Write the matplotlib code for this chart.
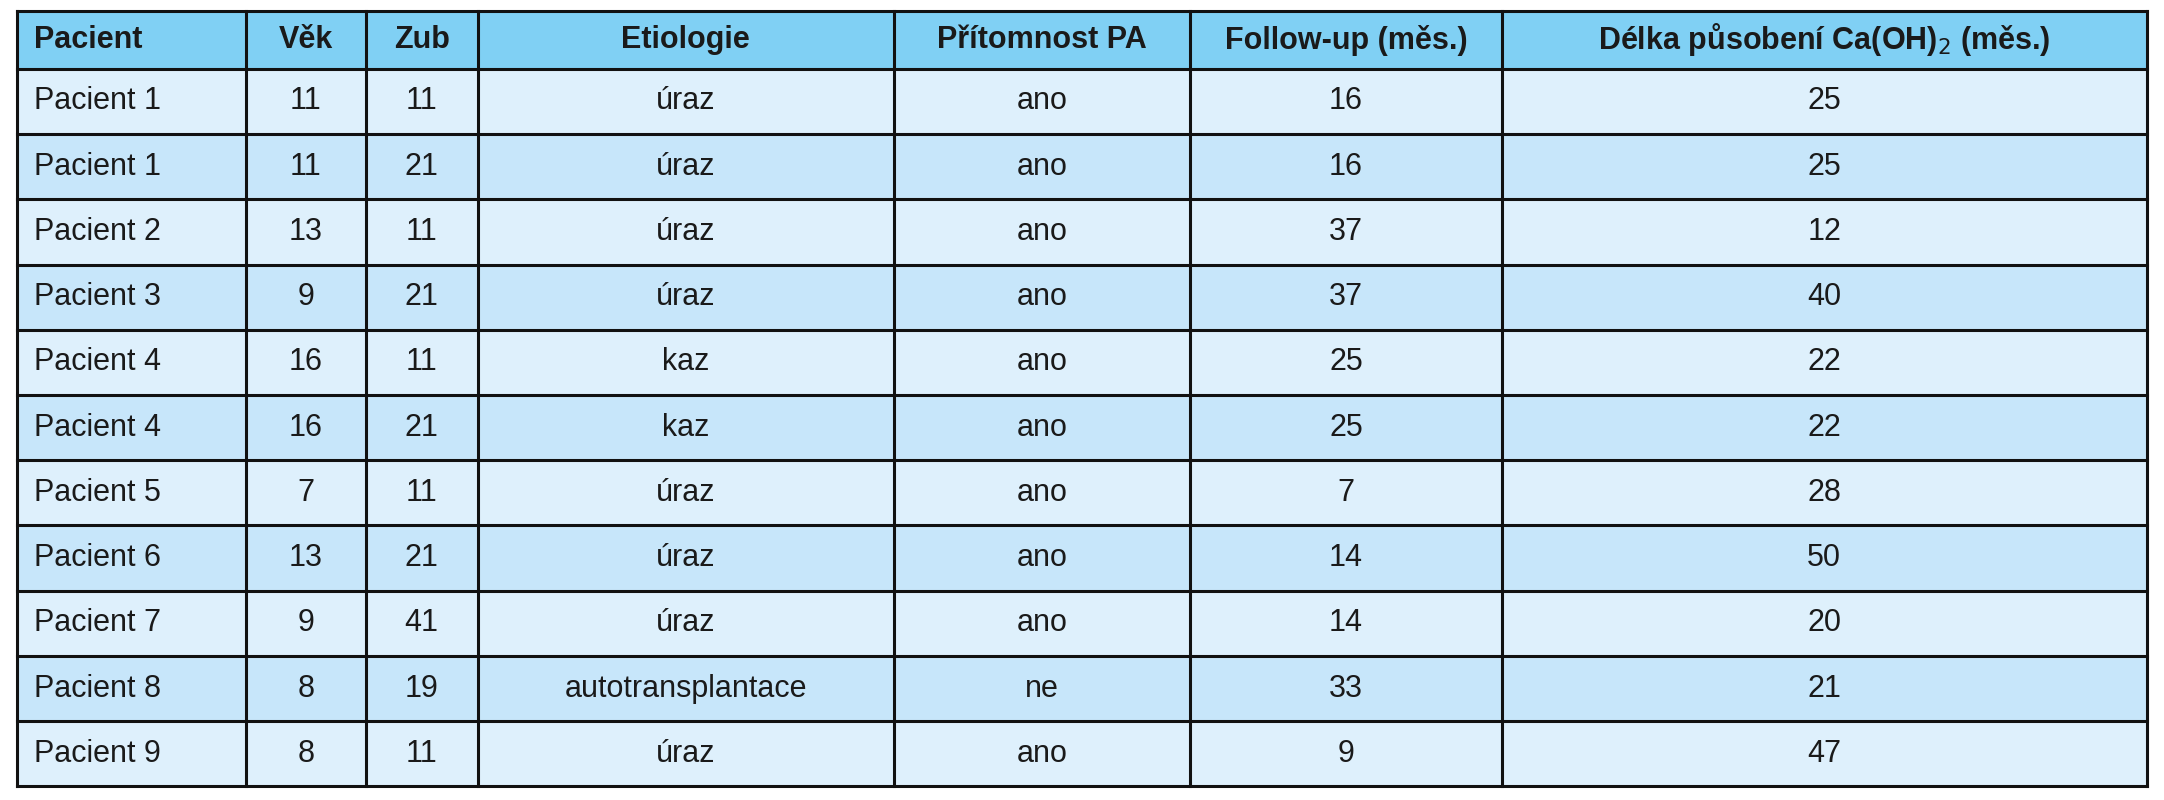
import matplotlib.pyplot as plt
from matplotlib.patches import Rectangle

plt.rcParams['font.family'] = ['Liberation Sans Narrow', 'Liberation Sans', 'DejaVu Sans']

columns = ['Pacient', 'Věk', 'Zub', 'Etiologie', 'Přítomnost PA',
           'Follow-up (měs.)', 'Délka působení Ca(OH)$_2$ (měs.)']
pacient = ['Pacient 1', 'Pacient 1', 'Pacient 2', 'Pacient 3', 'Pacient 4', 'Pacient 4',
           'Pacient 5', 'Pacient 6', 'Pacient 7', 'Pacient 8', 'Pacient 9']
vek = [11, 11, 13, 9, 16, 16, 7, 13, 9, 8, 8]
zub = [11, 21, 11, 21, 11, 21, 11, 21, 41, 19, 11]
etiologie = ['úraz', 'úraz', 'úraz', 'úraz', 'kaz', 'kaz', 'úraz', 'úraz', 'úraz',
             'autotransplantace', 'úraz']
pa = ['ano'] * 9 + ['ne', 'ano']
follow_up = [16, 16, 37, 37, 25, 25, 7, 14, 14, 33, 9]
delka = [25, 25, 12, 40, 22, 22, 28, 50, 20, 21, 47]

rows = list(zip(pacient, vek, zub, etiologie, pa, follow_up, delka))

# column borders and row borders as figure fractions
xs = [0.0077, 0.1135, 0.169, 0.2207, 0.413, 0.55, 0.694, 0.992]
top, head_bottom, bottom = 0.986, 0.914, 0.017
row_h = (head_bottom - bottom) / len(rows)

fig = plt.figure(figsize=(21.64, 8), dpi=100)
ax = fig.add_axes([0, 0, 1, 1])
ax.set_xlim(0, 1)
ax.set_ylim(0, 1)
ax.axis('off')

header_color = '#80d0f4'
row_colors = ['#def0fc', '#c7e6fa']

ax.add_patch(Rectangle((xs[0], head_bottom), xs[-1] - xs[0], top - head_bottom,
                       facecolor=header_color, edgecolor='none'))
for i, col in enumerate(columns):
    if i == 0:
        ax.text(xs[0] + 0.008, (top + head_bottom) / 2, col, ha='left', va='center',
                fontsize=22, fontweight='bold', color='#1a1a1a')
    else:
        ax.text((xs[i] + xs[i + 1]) / 2, (top + head_bottom) / 2, col, ha='center',
                va='center', fontsize=22, fontweight='bold', color='#1a1a1a')

for r, row in enumerate(rows):
    y1 = head_bottom - r * row_h
    y0 = y1 - row_h
    ax.add_patch(Rectangle((xs[0], y0), xs[-1] - xs[0], row_h,
                           facecolor=row_colors[r % 2], edgecolor='none'))
    for i, val in enumerate(row):
        if i == 0:
            ax.text(xs[0] + 0.008, (y0 + y1) / 2, str(val), ha='left', va='center',
                    fontsize=22, color='#1a1a1a')
        else:
            ax.text((xs[i] + xs[i + 1]) / 2, (y0 + y1) / 2, str(val), ha='center',
                    va='center', fontsize=22, color='#1a1a1a')

# grid lines
for x in xs:
    ax.plot([x, x], [bottom, top], color='#111111', lw=2.2)
for k in range(len(rows) + 2):
    y = top if k == 0 else head_bottom - (k - 1) * row_h
    ax.plot([xs[0], xs[-1]], [y, y], color='#111111', lw=2.2)

fig.savefig('out.png', dpi=100, facecolor='white')
